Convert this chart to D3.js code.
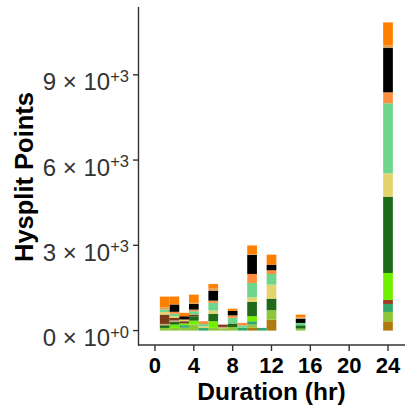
<!DOCTYPE html>
<html><head><meta charset="utf-8">
<script src="https://cdn.jsdelivr.net/npm/d3@7"></script>
<style>html,body{margin:0;padding:0;background:#fff}</style>
</head><body><div id="chart"></div>
<script>
const durations = [1,2,3,4,5,6,7,8,9,10,11,12,15,24];
const categories = ["goldenrod","yellowgreen","mediumseagreen","sienna","lawngreen","darkgreen","tan","saddlebrown","khaki","lightgreen","lightorange","black","tanTop","orange"];
const colors = ["#B07A10","#8DC63A","#33A66A","#9E3B22","#70F000","#1F6A1A","#C9AA7C","#7A3C18","#E3D46E","#6DD58C","#FF8F3F","#000000","#D9A05B","#FF7F00"];
const goldenrod      = [0,0,0,0,0,0,0,0,0,111,0,387,0,328];
const yellowgreen    = [94,94,100,210,0,95,80,125,0,100,0,328,70,328];
const mediumseagreen = [0,0,90,0,90,0,0,0,100,117,95,0,0,281];
const sienna         = [0,0,0,0,0,0,0,0,0,0,0,0,0,141];
const lawngreen      = [0,117,60,140,0,235,0,0,0,176,0,0,0,950];
const darkgreen      = [94,94,0,155,0,260,0,125,0,504,0,410,117,2685];
const tan            = [47,50,0,0,0,0,50,0,0,0,0,0,0,0];
const saddlebrown    = [328,94,80,60,0,0,80,0,0,0,0,0,0,0];
const khaki          = [94,60,60,0,60,115,0,0,0,164,0,492,0,821];
const lightgreen     = [82,82,0,115,80,270,0,200,85,504,0,375,82,2462];
const lightorange    = [0,70,0,60,100,80,0,85,85,317,0,129,0,387];
const black          = [0,258,115,200,0,350,0,160,0,668,0,199,152,1559];
const tanTop         = [82,0,0,35,0,70,0,0,0,30,0,0,47,92];
const orange         = [375,280,120,290,0,165,0,75,0,305,0,352,94,809];
const seriesValues = [goldenrod,yellowgreen,mediumseagreen,sienna,lawngreen,darkgreen,tan,saddlebrown,khaki,lightgreen,lightorange,black,tanTop,orange];
const xTicks = [0,4,8,12,16,20,24];
const yTicks = [0,3000,6000,9000];
const yTickMant = ["0","3","6","9"];
const yTickExp = ["+0","+3","+3","+3"];

const W = 415, H = 408;
const pLeft = 138, pRight = 405, pTop = 7, pBottom = 346;

const table = durations.map((d,i)=>{
  const row = {duration:d};
  categories.forEach((c,j)=>row[c]=seriesValues[j][i]);
  return row;
});
const stacked = d3.stack().keys(categories)(table);
const maxTotal = d3.max(table, r => d3.sum(categories, c => r[c]));

const x = d3.scaleLinear().domain([-1.75, 25.75]).range([pLeft, pRight]);
const y = d3.scaleLinear().domain([-0.05*maxTotal, 1.05*maxTotal]).range([pBottom, pTop]);
const color = d3.scaleOrdinal().domain(categories).range(colors);

const svg = d3.select("#chart").append("svg").attr("width",W).attr("height",H)
  .style("font-family","'Liberation Sans', Arial, sans-serif");

svg.append("g").selectAll("g").data(stacked).join("g")
  .attr("fill", s => color(s.key))
  .selectAll("rect").data(s => s).join("rect")
  .attr("x", d => x(d.data.duration - 0.5))
  .attr("width", d => x(d.data.duration + 0.5) - x(d.data.duration - 0.5))
  .attr("y", d => y(d[1]))
  .attr("height", d => Math.max(0, y(d[0]) - y(d[1])));

const axisColor = "#333";
svg.append("line").attr("x1",pLeft).attr("x2",pRight).attr("y1",pBottom-1).attr("y2",pBottom-1)
  .attr("stroke",axisColor).attr("stroke-width",1.4);
svg.append("line").attr("x1",pLeft+0.5).attr("x2",pLeft+0.5).attr("y1",pTop).attr("y2",pBottom-0.3)
  .attr("stroke",axisColor).attr("stroke-width",1.4);

const xg = svg.append("g");
xTicks.forEach(t=>{
  xg.append("line").attr("x1",x(t)).attr("x2",x(t)).attr("y1",pBottom-1).attr("y2",pBottom+5)
    .attr("stroke",axisColor).attr("stroke-width",1.4);
  xg.append("text").attr("x",x(t)).attr("y",373).attr("text-anchor","middle")
    .attr("font-size",22).attr("font-weight","bold").attr("fill","#000").text(t);
});

const yg = svg.append("g");
yTicks.forEach((t,i)=>{
  yg.append("line").attr("x1",pLeft-5).attr("x2",pLeft+0.5).attr("y1",y(t)).attr("y2",y(t))
    .attr("stroke",axisColor).attr("stroke-width",1.4);
  const tx = yg.append("text").attr("x",129).attr("y",y(t)+15.5).attr("text-anchor","end")
    .attr("fill","#333").attr("font-size",24);
  tx.append("tspan").text(yTickMant[i] + " \u00D7 10");
  tx.append("tspan").attr("dy",-8.5).attr("font-size",16.5).text(yTickExp[i]);
});

svg.append("text").attr("x",(pLeft+pRight)/2).attr("y",400).attr("text-anchor","middle")
  .attr("font-size",24.5).attr("font-weight","bold").attr("fill","#000").text("Duration (hr)");
svg.append("text").attr("transform","translate(33,177) rotate(-90)").attr("text-anchor","middle")
  .attr("font-size",25.5).attr("font-weight","bold").attr("fill","#000").text("Hysplit Points");
</script></body></html>
